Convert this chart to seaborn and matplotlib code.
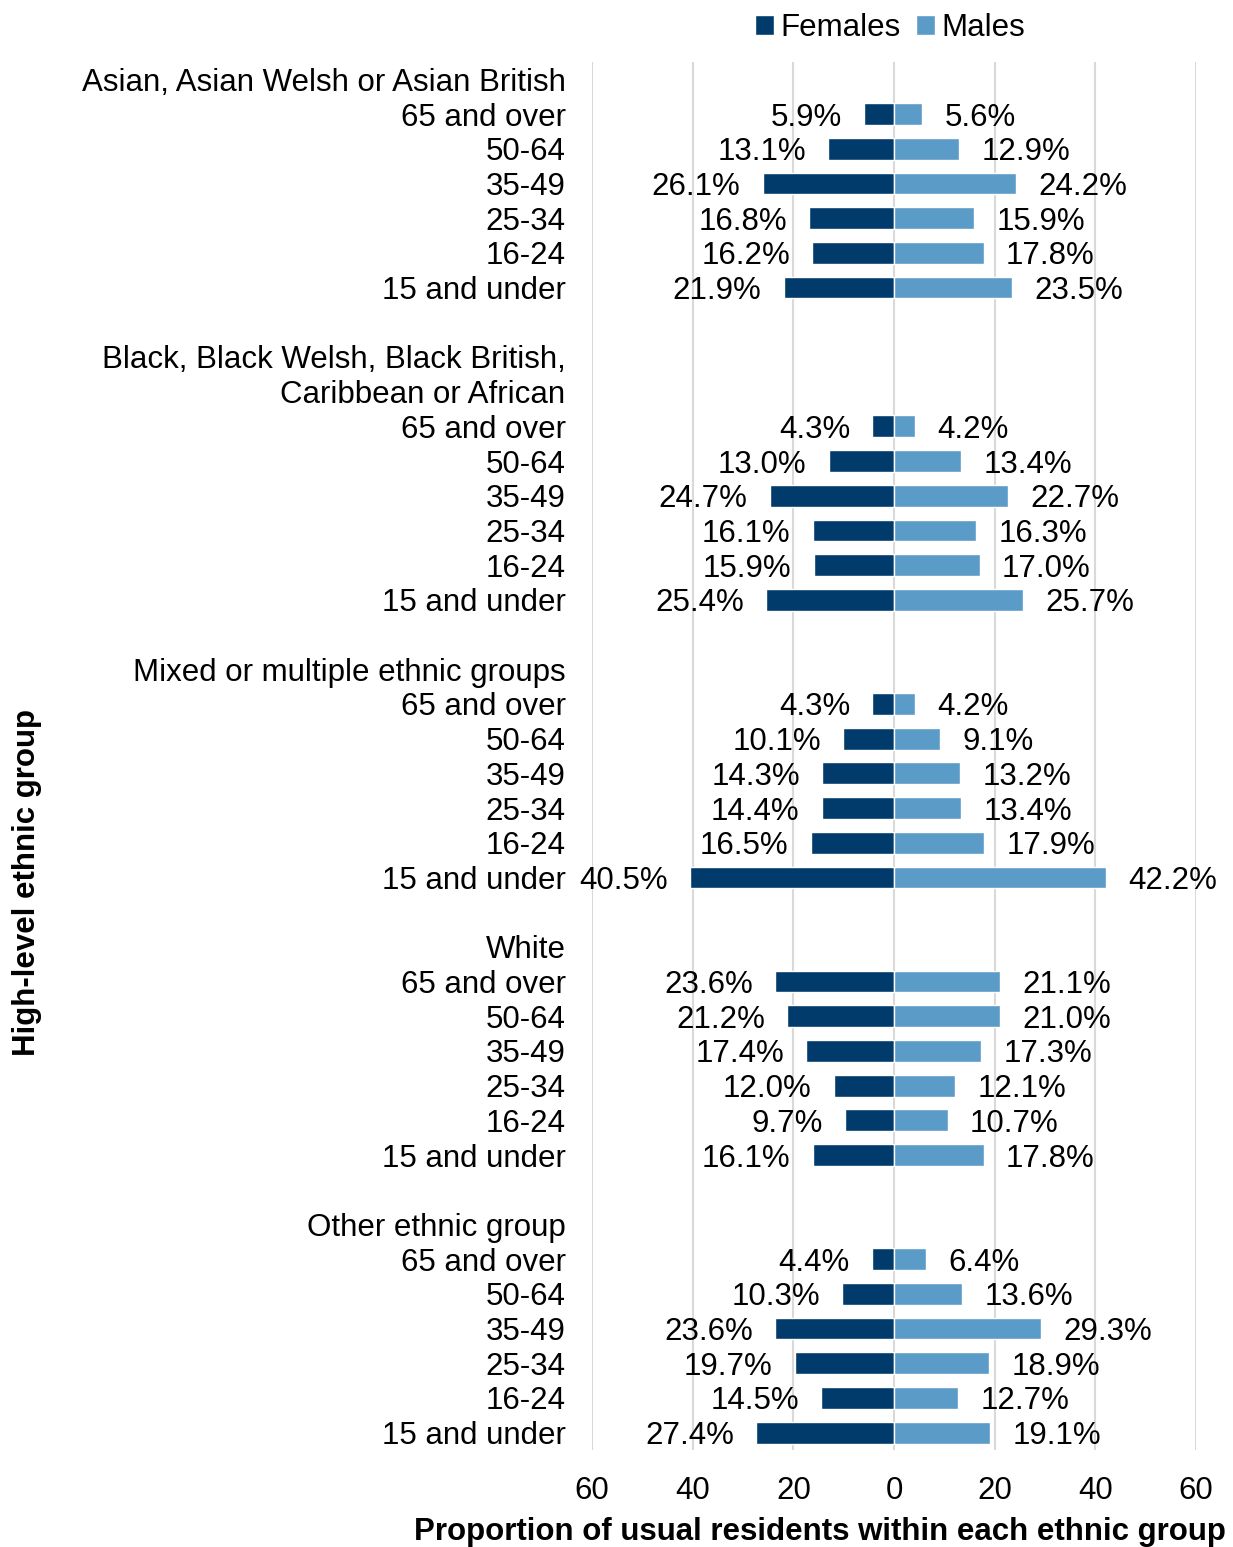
import pandas as pd
import matplotlib
matplotlib.use("Agg")
import matplotlib.pyplot as plt
import seaborn as sns

# Data (percent of usual residents)
ages = ["65 and over", "50-64", "35-49", "25-34", "16-24", "15 and under"]

asian_f = [5.9, 13.1, 26.1, 16.8, 16.2, 21.9]
asian_m = [5.6, 12.9, 24.2, 15.9, 17.8, 23.5]
black_f = [4.3, 13.0, 24.7, 16.1, 15.9, 25.4]
black_m = [4.2, 13.4, 22.7, 16.3, 17.0, 25.7]
mixed_f = [4.3, 10.1, 14.3, 14.4, 16.5, 40.5]
mixed_m = [4.2, 9.1, 13.2, 13.4, 17.9, 42.2]
white_f = [23.6, 21.2, 17.4, 12.0, 9.7, 16.1]
white_m = [21.1, 21.0, 17.3, 12.1, 10.7, 17.8]
other_f = [4.4, 10.3, 23.6, 19.7, 14.5, 27.4]
other_m = [6.4, 13.6, 29.3, 18.9, 12.7, 19.1]

groups = [
    ("Asian", ["Asian, Asian Welsh or Asian British"], asian_f, asian_m),
    ("Black", ["Black, Black Welsh, Black British,", "Caribbean or African"], black_f, black_m),
    ("Mixed", ["Mixed or multiple ethnic groups"], mixed_f, mixed_m),
    ("White", ["White"], white_f, white_m),
    ("Other", ["Other ethnic group"], other_f, other_m),
]

female_col = "#003b6b"
male_col = "#5b9bc8"
fs = 22.5

# Build category order (with header and blank rows) and long-form table
order, tick_text, records = [], [], []
for gi, (key, header, fvals, mvals) in enumerate(groups):
    if gi > 0:
        order.append(f"blank{gi}")
        tick_text.append("")
    for hi, h in enumerate(header):
        order.append(f"{key}_head{hi}")
        tick_text.append(h)
    for age, f, m in zip(ages, fvals, mvals):
        cat = f"{key}|{age}"
        order.append(cat)
        tick_text.append(age)
        records.append({"cat": cat, "sex": "Females", "value": -f})
        records.append({"cat": cat, "sex": "Males", "value": m})
df = pd.DataFrame(records)

sns.set_theme(style="white")
plt.rcParams["font.family"] = ["Liberation Sans", "DejaVu Sans"]
for k in ["text.color", "axes.labelcolor", "xtick.color", "ytick.color"]:
    plt.rcParams[k] = "black"

fig = plt.figure(figsize=(12.33, 15.47), dpi=100)
ax = fig.add_axes([592 / 1233, 1 - 1450 / 1547, 604 / 1233, 1388 / 1547])

sns.barplot(data=df, x="value", y="cat", hue="sex", order=order,
            hue_order=["Females", "Males"], palette=[female_col, male_col],
            saturation=1, dodge=False, width=0.63, orient="h",
            edgecolor="white", linewidth=1, ax=ax, zorder=3)

for cont in ax.containers:
    labels_ = ax.bar_label(cont, fmt=lambda v: f"{abs(v):.1f}%", padding=16,
                           fontsize=fs, color="black")
    for t in labels_:
        t.set_va("center_baseline")

ax.set_xlim(-60, 60)
ax.set_xticks(range(-60, 61, 20))
ax.set_xticklabels([str(abs(t)) for t in range(-60, 61, 20)], fontsize=fs)
ax.set_yticks(range(len(order)))
ax.set_yticklabels(tick_text, fontsize=fs)
ax.tick_params(axis="y", length=0, pad=19)
ax.tick_params(axis="x", length=0, pad=19)
ax.grid(axis="x", color="#d9d9d9", linewidth=1.5, zorder=0)
ax.set_axisbelow(True)
for s in ax.spines.values():
    s.set_visible(False)

ax.set_ylabel("")
ax.set_xlabel("Proportion of usual residents within each ethnic group",
              fontsize=fs, fontweight="bold")
ax.xaxis.set_label_coords(0.377, -0.048)

fig.text(27 / 1233, 1 - 882 / 1547, "High-level ethnic group", rotation=90,
         ha="center", va="center", fontsize=fs, fontweight="bold")

handles, labels = ax.get_legend_handles_labels()
if ax.legend_ is not None:
    ax.legend_.remove()
fig.legend(handles, labels, loc="center", bbox_to_anchor=(890 / 1233, 1 - 28 / 1547),
           ncol=2, frameon=False, fontsize=fs, handlelength=0.6,
           handleheight=0.6, handletextpad=0.2, columnspacing=0.5)

fig.savefig("out.png", dpi=100)
